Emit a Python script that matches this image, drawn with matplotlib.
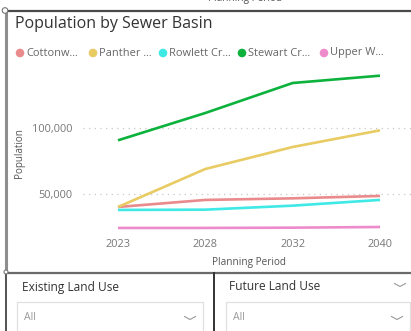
import matplotlib
matplotlib.use("Agg")
import matplotlib.pyplot as plt
from matplotlib.patches import Circle
from matplotlib.ticker import FuncFormatter

plt.rcParams['font.family'] = ['Open Sans', 'DejaVu Sans']

# Data
years = ["2023", "2028", "2032", "2040"]
basins = ["Cottonw...", "Panther ...", "Rowlett Cr...", "Stewart Cr...", "Upper W..."]
cottonwood = [40500, 45800, 47000, 48800]
panther = [40500, 69000, 85500, 98000]
rowlett = [38300, 38500, 41500, 45800]
stewart = [90500, 111000, 133500, 139000]
upper_w = [24800, 24800, 25000, 25500]
series = [cottonwood, panther, rowlett, stewart, upper_w]
colors = ["#E98B8D", "#E8CB62", "#3FE9E6", "#0CB23C", "#EE8BCB"]
y_ticks = [50000, 100000]

W, H = 411, 331
fig = plt.figure(figsize=(W / 100, H / 100), dpi=100)
fig.patch.set_facecolor("white")

# Pixel-space overlay for frames, titles and slicers
bg = fig.add_axes([0, 0, 1, 1])
bg.set_xlim(0, W)
bg.set_ylim(H, 0)
bg.axis("off")

# Axis caption of the visual above, partly outside the canvas
bg.text(245, -1.0, "Planning Period", ha="center", va="center",
        fontsize=7.2, color="#555555")

# Frame lines and resize handles
bg.plot([5, W], [10.5, 10.5], color="#4a4a4a", lw=1.6, solid_capstyle="butt")
bg.plot([5, W], [272.5, 272.5], color="#6a6a6a", lw=1.6, solid_capstyle="butt")
bg.plot([5.5, 5.5], [10, 272], color="#8e8e8e", lw=2.2, solid_capstyle="butt")
bg.plot([6, 6], [272, H], color="#444444", lw=1.3, solid_capstyle="butt")
bg.plot([214, 214], [272, H], color="#333333", lw=1.4, solid_capstyle="butt")
bg.add_patch(Circle((5, 10.5), 2.8, facecolor="white", edgecolor="#777777", lw=0.8, zorder=5))
bg.add_patch(Circle((6, 272), 2.0, facecolor="white", edgecolor="#777777", lw=0.8, zorder=5))

# Title
bg.text(15, 24, "Population by Sewer Basin", ha="left", va="center",
        fontsize=11.5, color="#333333")

# Legend
legend_x = [20, 93, 163, 242, 324]
for x, name, c in zip(legend_x, basins, colors):
    bg.add_patch(Circle((x, 53), 4.3, facecolor=c, edgecolor="none"))
    bg.text(x + 6, 53, name, ha="left", va="center", fontsize=7.9, color="#666666")

# Axis titles
bg.text(20, 153, "Population", rotation=90, ha="center", va="center",
        fontsize=7.1, color="#555555")
bg.text(249, 262.5, "Planning Period", ha="center", va="center",
        fontsize=7.2, color="#555555")

# Slicers
bg.text(22, 287, "Existing Land Use", ha="left", va="center", fontsize=8.6, color="#333333")
bg.text(229, 287, "Future Land Use", ha="left", va="center", fontsize=8.6, color="#333333")


def chevron(cx, cy, w=5.5, h=3.0, color="#999999"):
    bg.plot([cx - w, cx, cx + w], [cy - h / 2, cy + h / 2, cy - h / 2],
            color=color, lw=0.8)


chevron(400, 285)
for x0, x1 in [(17, 203), (226, 410)]:
    bg.plot([x0, x0, x1, x1], [H + 2, 302, 302, H + 2], color="#e0e0e0", lw=0.9)
    bg.text(x0 + 6.5, 318, "All", ha="left", va="center", fontsize=7.6, color="#999999")
    chevron(x1 - 13, 318)


# Line chart
def fx(px):
    return px / W


def fy(py):
    return (H - py) / H


ax = fig.add_axes([fx(83), fy(235), fx(411) - fx(83), fy(70) - fy(235)])
ax.set_facecolor("none")
xs = list(range(len(years)))
for vals, c in zip(series, colors):
    ax.plot(xs, vals, color=c, lw=1.9, solid_capstyle="butt", zorder=3)

ax.set_xlim(-0.4, 3.355)
ax.set_ylim(19500, 143250)
ax.set_xticks(xs)
ax.set_xticklabels(years)
ax.set_yticks(y_ticks)
ax.yaxis.set_major_formatter(FuncFormatter(lambda v, p: f"{int(v):,}"))
ax.tick_params(axis="both", length=0, labelsize=7.9, labelcolor="#777777")
ax.tick_params(axis="y", pad=7.5)
ax.tick_params(axis="x", pad=3.2)
ax.grid(axis="y", color="#c8c8c8", lw=0.9, linestyle=(0, (1, 3.5)))
ax.grid(axis="x", visible=False)
for s in ax.spines.values():
    s.set_visible(False)

fig.savefig("out.png", dpi=100, facecolor="white")
